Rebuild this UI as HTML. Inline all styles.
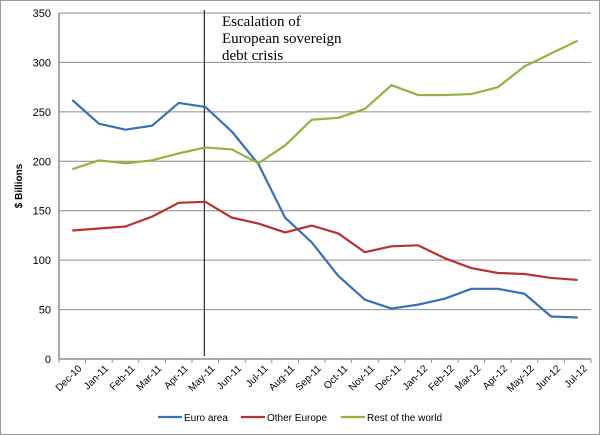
<!DOCTYPE html>
<html><head><meta charset="utf-8"><style>
body{margin:0;background:#fff;}
svg{display:block;font-family:"Liberation Sans",sans-serif;}
</style></head><body>
<svg id="c" width="600" height="435">
<rect x="0.5" y="0.5" width="599" height="434" fill="#fff" stroke="#999"/>
<g id="g"></g>
</svg>
<script>
const categories=["Dec-10","Jan-11","Feb-11","Mar-11","Apr-11","May-11","Jun-11","Jul-11","Aug-11","Sep-11","Oct-11","Nov-11","Dec-11","Jan-12","Feb-12","Mar-12","Apr-12","May-12","Jun-12","Jul-12"];
const euroArea=[262,238,232,236,259,255,230,197,143,118,84,60,51,55,61,71,71,66,43,42];
const otherEurope=[130,132,134,144,158,159,143,137,128,135,127,108,114,115,102,92,87,86,82,80];
const restOfWorld=[192,201,198,201,208,214,212,198,216,242,244,253,277,267,267,268,275,296,309,322];
const yTicks=[0,50,100,150,200,250,300,350];
const eventIndex=5;
const L=59,R=591,T=13,B=359,YMAX=350;
const bw=(R-L)/categories.length;
const x=i=>L+bw*(i+0.5);
const y=v=>B-(v/YMAX)*(B-T);
const g=document.getElementById('g');
const NS='http://www.w3.org/2000/svg';
function mk(t,a){const e=document.createElementNS(NS,t);for(const k in a)e.setAttribute(k,a[k]);g.appendChild(e);return e;}
yTicks.forEach(v=>{
 const l=mk('line',{x1:L,x2:R,y1:y(v),y2:y(v),stroke:'#8c8c8c','stroke-width':1});
 
 
 const t=mk('text',{x:L-8,y:y(v)+4,'text-anchor':'end','font-size':11,fill:'#000'});t.textContent=v;
 
 
});
const ax=mk('line',{x1:L,x2:L,y1:T,y2:B,stroke:'#8c8c8c','stroke-width':1.5});


const xa=mk('line',{x1:L,x2:R,y1:B,y2:B,stroke:'#8c8c8c','stroke-width':1.5});


for(let i=0;i<=categories.length;i++){const tk=mk('line',{x1:L+bw*i,x2:L+bw*i,y1:B,y2:B+4,stroke:'#8c8c8c'});
 
 }
categories.forEach((c,i)=>{
 const ax0=x(i)+10,ay0=B+10;
 const t=mk('text',{x:ax0,y:ay0,'text-anchor':'end','font-size':10,transform:`rotate(-45 ${ax0} ${ay0})`});t.textContent=c;
 
 
});
const yt=mk('text',{x:0,y:0,'font-size':10,'font-weight':'bold','text-anchor':'middle',transform:`translate(22 ${(T+B)/2}) rotate(-90)`});yt.textContent='$ Billions';


const ev=mk('line',{x1:x(eventIndex)-1,x2:x(eventIndex)-1,y1:T-3,y2:B-3,stroke:'#000','stroke-width':1});


["Escalation of","European sovereign","debt crisis"].forEach((s,k)=>{
 const t=mk('text',{x:222,y:26+k*17,'font-size':15,'font-family':'"Liberation Serif",serif'});t.textContent=s;
 
 
});
const series=[[euroArea,'#3a6fb5','euro-area'],[otherEurope,'#b83232','other-europe'],[restOfWorld,'#90b43c','rest-of-world']];
series.forEach(([d,col,n])=>{
 const p=mk('polyline',{points:d.map((v,i)=>x(i)+','+y(v)).join(' '),fill:'none',stroke:col,'stroke-width':2.2,'stroke-linejoin':'round'});
 
 
});
const leg=[['Euro area','#3a6fb5',158],['Other Europe','#b83232',241],['Rest of the world','#90b43c',341]];
leg.forEach(([s,col,lx])=>{
 const l=mk('line',{x1:lx,x2:lx+24,y1:417,y2:417,stroke:col,'stroke-width':2.2});
 
 
 const t=mk('text',{x:lx+26,y:421,'font-size':10});t.textContent=s;
 
 
});
</script>
</body></html>
